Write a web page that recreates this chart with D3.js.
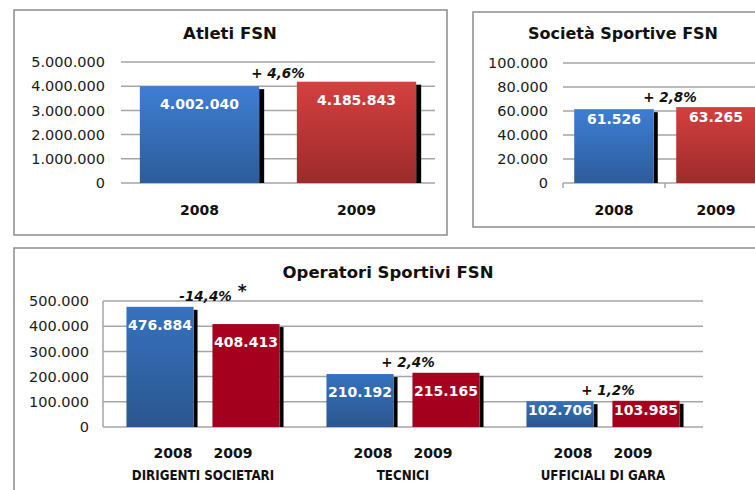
<!DOCTYPE html>
<html>
<head>
<meta charset="utf-8">
<script src="https://cdn.jsdelivr.net/npm/d3@7"></script>
<style>
  html, body { margin: 0; padding: 0; background: #fff; }
  svg { display: block; }
  text { font-family: "DejaVu Sans", Verdana, sans-serif; fill: #111; }
</style>
</head>
<body>
<svg id="chart" width="755" height="490"></svg>
<script>
// ---------- DATA ----------
const years = ["2008", "2009"];

const atletiTitle = "Atleti FSN";
const atletiValues = [4002040, 4185843];
const atletiTicks = [0, 1000000, 2000000, 3000000, 4000000, 5000000];
const atletiChange = "+ 4,6%";

const societaTitle = "Società Sportive FSN";
const societaValues = [61526, 63265];
const societaTicks = [0, 20000, 40000, 60000, 80000, 100000];
const societaChange = "+ 2,8%";

const operatoriTitle = "Operatori Sportivi FSN";
const operatoriCategories = ["DIRIGENTI SOCIETARI", "TECNICI", "UFFICIALI DI GARA"];
const operatori2008 = [476884, 210192, 102706];
const operatori2009 = [408413, 215165, 103985];
const operatoriTicks = [0, 100000, 200000, 300000, 400000, 500000];
const operatoriChanges = ["-14,4%", "+ 2,4%", "+ 1,2%"];
const operatoriChangeMarks = [" *", "", ""];

// ---------- SETUP ----------
const it = d3.formatLocale({ decimal: ",", thousands: ".", grouping: [3], currency: ["€", ""] });
const fmt = it.format(",d");

const svg = d3.select("#chart");
const defs = svg.append("defs");
function grad(id, top, bottom) {
  const g = defs.append("linearGradient").attr("id", id)
    .attr("x1", 0).attr("y1", 0).attr("x2", 0).attr("y2", 1);
  g.append("stop").attr("offset", "0%").attr("stop-color", top);
  g.append("stop").attr("offset", "100%").attr("stop-color", bottom);
}
grad("blueA", "#3E7ED3", "#2C5C9B");
grad("redA", "#D4403F", "#9C2B2B");
grad("blueB", "#3672BE", "#2A568F");
grad("redB", "#A8001F", "#A2001E");

const gridColor = "#A6A6A6";
const borderColor = "#8C8C8C";

function panelBox(x, y, w, h) {
  svg.append("rect").attr("x", x).attr("y", y).attr("width", w).attr("height", h)
    .attr("fill", "#fff").attr("stroke", borderColor).attr("stroke-width", 1.5);
}

function gridAndTicks(g, y, ticks, x0, x1, labelX) {
  g.selectAll(".grid").data(ticks).enter().append("line")
    .attr("x1", x0).attr("x2", x1)
    .attr("y1", d => y(d)).attr("y2", d => y(d))
    .attr("stroke", gridColor).attr("stroke-width", 1.5);
  g.selectAll(".ylab").data(ticks).enter().append("text")
    .attr("x", labelX).attr("y", d => y(d)).attr("dy", "0.36em")
    .attr("text-anchor", "end").style("font-size", "14.5px").style("fill", "#1a1a1a")
    .text(d => fmt(d));
}

function bar(g, x, w, yTop, yBase, fill, shadowW) {
  g.append("rect").attr("x", x + w).attr("y", yTop + 3)
    .attr("width", shadowW).attr("height", Math.max(0, yBase - yTop - 3)).attr("fill", "#000");
  g.append("rect").attr("x", x).attr("y", yTop).attr("width", w).attr("height", yBase - yTop).attr("fill", fill);
}

function valueLabel(g, cx, cy, v) {
  g.append("text").attr("x", cx).attr("y", cy).attr("dy", "0.36em")
    .attr("text-anchor", "middle").style("font-size", "14px").style("font-weight", "bold")
    .style("fill", "#fff").text(fmt(v));
}

function changeLabel(g, cx, cy, t, mark) {
  const tx = g.append("text").attr("x", cx).attr("y", cy).attr("dy", "0.36em")
    .attr("text-anchor", "middle").style("font-size", "13.5px").style("font-weight", "bold")
    .style("font-style", "italic").style("fill", "#111").text(t);
  if (mark) {
    tx.append("tspan").attr("dy", "-0.2em").style("font-size", "17px").style("font-style", "normal").text(mark);
  }
}

// ---------- PANEL 1 : ATLETI ----------
(function () {
  panelBox(14, 10, 433, 225);
  const g = svg.append("g");
  const x = d3.scaleBand().domain(years).range([121, 435]).paddingInner(0.24).paddingOuter(0.12);
  const y = d3.scaleLinear().domain([0, 5000000]).range([183, 62]);
  gridAndTicks(g, y, atletiTicks, 121, 435, 105);
  const fills = ["url(#blueA)", "url(#redA)"];
  years.forEach((yr, i) => {
    bar(g, x(yr), x.bandwidth(), y(atletiValues[i]), y(0), fills[i], 5);
    valueLabel(g, x(yr) + x.bandwidth() / 2, y(atletiValues[i]) + 18, atletiValues[i]);
    g.append("text").attr("x", x(yr) + x.bandwidth() / 2).attr("y", 210).attr("dy", "0.36em")
      .attr("text-anchor", "middle").style("font-size", "14px").style("font-weight", "bold").text(yr);
  });
  const mid = (x(years[0]) + x.bandwidth() + x(years[1])) / 2;
  changeLabel(g, mid, y(d3.max(atletiValues)) - 9, atletiChange, "");
  g.append("text").attr("x", 230).attr("y", 33).attr("dy", "0.36em").attr("text-anchor", "middle")
    .style("font-size", "16.5px").style("font-weight", "bold").text(atletiTitle);
})();

// ---------- PANEL 2 : SOCIETA ----------
(function () {
  panelBox(473, 12, 320, 215);
  const g = svg.append("g");
  const x = d3.scaleBand().domain(years).range([563, 767]).paddingInner(0.22).paddingOuter(0.11);
  const y = d3.scaleLinear().domain([0, 100000]).range([183, 63]);
  gridAndTicks(g, y, societaTicks, 563, 767, 548);
  [563, 563 + x.step(), 563 + 2 * x.step()].forEach(px => {
    g.append("line").attr("x1", px).attr("x2", px).attr("y1", 183).attr("y2", 188)
      .attr("stroke", gridColor).attr("stroke-width", 1.5);
  });
  const fills = ["url(#blueA)", "url(#redA)"];
  years.forEach((yr, i) => {
    bar(g, x(yr), x.bandwidth(), y(societaValues[i]), y(0), fills[i], 4);
    valueLabel(g, x(yr) + x.bandwidth() / 2, y(societaValues[i]) + 10, societaValues[i]);
    g.append("text").attr("x", x(yr) + x.bandwidth() / 2).attr("y", 210).attr("dy", "0.36em")
      .attr("text-anchor", "middle").style("font-size", "14px").style("font-weight", "bold").text(yr);
  });
  const mid = (x(years[0]) + x.bandwidth() + x(years[1])) / 2 + 5;
  changeLabel(g, mid, y(d3.max(societaValues)) - 10, societaChange, "");
  g.append("text").attr("x", 623).attr("y", 33).attr("dy", "0.36em").attr("text-anchor", "middle")
    .style("font-size", "16px").style("font-weight", "bold").text(societaTitle);
})();

// ---------- PANEL 3 : OPERATORI ----------
(function () {
  panelBox(14, 248, 780, 270);
  const g = svg.append("g");
  const x0 = d3.scaleBand().domain(operatoriCategories).range([103, 703]);
  const x1 = d3.scaleBand().domain(years).range([0, x0.bandwidth()]).paddingInner(0.22).paddingOuter(0.273);
  const xl = d3.scaleBand().domain(years).range([x0.bandwidth() / 2 - 60, x0.bandwidth() / 2 + 60]);
  const y = d3.scaleLinear().domain([0, 500000]).range([427, 301]);
  gridAndTicks(g, y, operatoriTicks, 103, 703, 89);
  g.append("line").attr("x1", 103).attr("x2", 103).attr("y1", y(500000)).attr("y2", y(0))
    .attr("stroke", gridColor).attr("stroke-width", 1.5);
  const fills = ["url(#blueB)", "url(#redB)"];
  operatoriCategories.forEach((cat, ci) => {
    const vals = [operatori2008[ci], operatori2009[ci]];
    years.forEach((yr, i) => {
      const bx = x0(cat) + x1(yr);
      const top = y(vals[i]);
      bar(g, bx, x1.bandwidth(), top, y(0), fills[i], 4);
      const off = Math.min(18, (y(0) - top) / 2 - 4);
      valueLabel(g, bx + x1.bandwidth() / 2, top + off, vals[i]);
      g.append("text").attr("x", x0(cat) + xl(yr) + xl.bandwidth() / 2).attr("y", 453).attr("dy", "0.36em")
        .attr("text-anchor", "middle").style("font-size", "14px").style("font-weight", "bold").text(yr);
    });
    const cl = g.append("text").attr("x", x0(cat) + x0.bandwidth() / 2).attr("y", 475).attr("dy", "0.36em")
      .attr("text-anchor", "middle")
      .style("font-size", "14px").style("font-weight", "bold").text(cat);
    const natural = cl.node().getComputedTextLength();
    cl.attr("textLength", natural * 0.85).attr("lengthAdjust", "spacingAndGlyphs");
    const markShift = operatoriChangeMarks[ci] ? 10 : 5;
    changeLabel(g, x0(cat) + x0.bandwidth() / 2 + markShift, y(d3.max(vals)) - 11,
      operatoriChanges[ci], operatoriChangeMarks[ci]);
  });
  g.append("text").attr("x", 388).attr("y", 272).attr("dy", "0.36em").attr("text-anchor", "middle")
    .style("font-size", "16.5px").style("font-weight", "bold").text(operatoriTitle);
})();
</script>
</body>
</html>
